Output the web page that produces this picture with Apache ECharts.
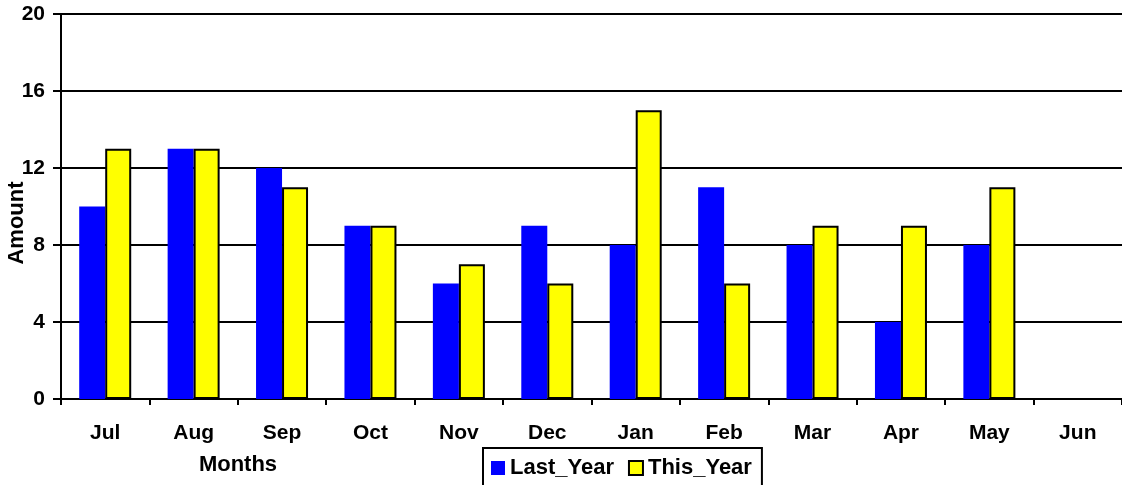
<!DOCTYPE html>
<html>
<head>
<meta charset="utf-8">
<script src="https://cdn.jsdelivr.net/npm/echarts@6/dist/echarts.min.js"></script>
<style>
html,body{margin:0;padding:0;background:#fff;}
#chart{width:1122px;height:485px;}
</style>
</head>
<body>
<div id="chart"></div>
<script>
const categories = ['Jul','Aug','Sep','Oct','Nov','Dec','Jan','Feb','Mar','Apr','May','Jun'];
const lastYear = [10, 13, 12, 9, 6, 9, 8, 11, 8, 4, 8, null];
const thisYear = [13, 13, 11, 9, 7, 6, 15, 6, 9, 9, 11, null];
const yTicks = [0, 4, 8, 12, 16, 20];

const FONT = '"Liberation Sans", Arial, sans-serif';
const chart = echarts.init(document.getElementById('chart'), null, {renderer: 'canvas'});
chart.setOption({
  animation: false,
  backgroundColor: '#fff',
  grid: {left: 61, top: 14, right: -10, bottom: 86, containLabel: false},
  xAxis: {
    type: 'category',
    data: categories,
    boundaryGap: true,
    axisLine: {lineStyle: {color: '#000', width: 2}},
    axisTick: {show: true, alignWithLabel: false, length: 6, lineStyle: {color: '#000', width: 2}},
    axisLabel: {color: '#000', fontFamily: FONT, fontWeight: 'bold', fontSize: 21, margin: 24},
    splitLine: {show: false}
  },
  yAxis: {
    type: 'value',
    min: yTicks[0],
    max: yTicks[yTicks.length - 1],
    interval: 4,
    axisLine: {show: true, lineStyle: {color: '#000', width: 2}},
    axisTick: {show: true, length: 8, lineStyle: {color: '#000', width: 2}},
    axisLabel: {color: '#000', fontFamily: FONT, fontWeight: 'bold', fontSize: 21, margin: 16},
    splitLine: {show: true, lineStyle: {color: '#000', width: 2}}
  },
  legend: {
    left: 483,
    top: 448,
    orient: 'horizontal',
    icon: 'rect',
    borderColor: '#000',
    borderWidth: 2,
    padding: [9, 10, 14, 8],
    itemWidth: 14,
    itemHeight: 14,
    itemGap: 14,
    textStyle: {color: '#000', fontFamily: FONT, fontWeight: 'bold', fontSize: 22},
    data: ['Last_Year', 'This_Year']
  },
  graphic: [
    {type: 'text', x: 238, y: 465,
     style: {text: 'Months', fill: '#000', font: 'bold 22px ' + FONT, textAlign: 'center', textVerticalAlign: 'middle'}},
    {type: 'text', x: 17, y: 223, rotation: Math.PI / 2,
     style: {text: 'Amount', fill: '#000', font: 'bold 22px ' + FONT, textAlign: 'center', textVerticalAlign: 'middle'}}
  ],
  series: [
    {
      name: 'Last_Year', type: 'bar', data: lastYear,
      barWidth: 26, barGap: '0%',
      itemStyle: {color: '#0000ff'}
    },
    {
      name: 'This_Year', type: 'bar', data: thisYear,
      barWidth: 26, barGap: '0%',
      itemStyle: {color: '#ffff00', borderColor: '#000', borderWidth: 2}
    }
  ]
});
</script>
</body>
</html>
